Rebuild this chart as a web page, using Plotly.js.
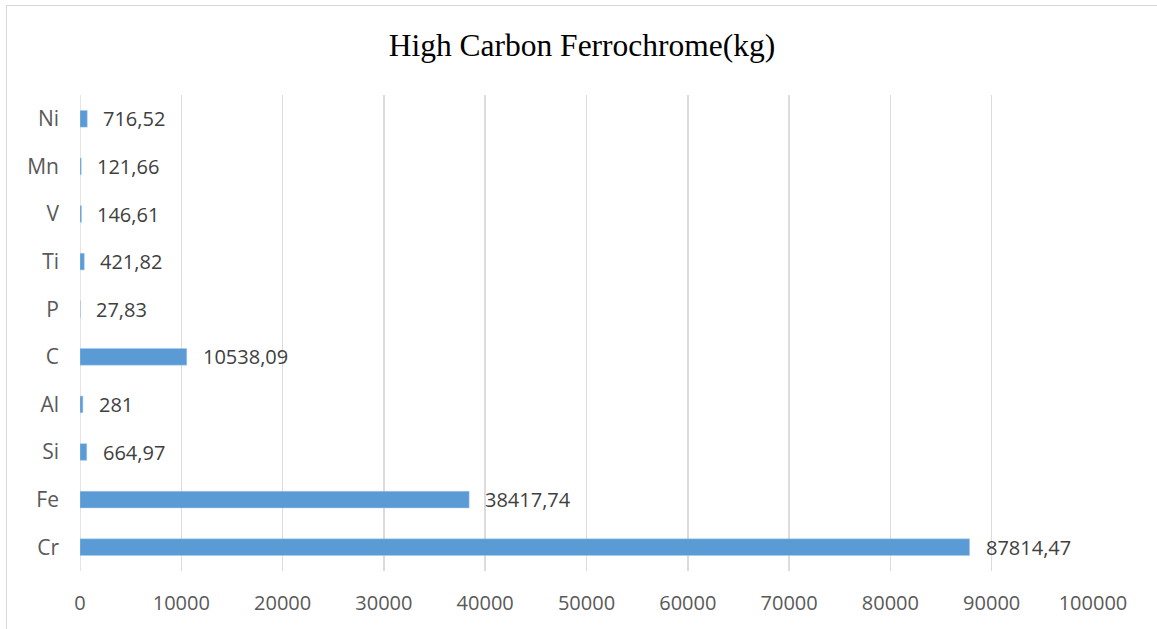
<!DOCTYPE html>
<html>
<head>
<meta charset="utf-8">
<script src="https://cdn.plot.ly/plotly-3.0.1.min.js"></script>
<style>
  html, body { margin: 0; padding: 0; background: #fff; overflow: hidden; }
  #frame { position: absolute; left: 6px; top: 5px; width: 1200px; height: 700px;
           border-left: 1.5px solid #d9d9d9; border-top: 1.5px solid #d9d9d9; }
  #chart { position: absolute; left: 0; top: 0; width: 1157px; height: 629px; }
</style>
</head>
<body>
<div id="frame"></div>
<div id="chart"></div>
<script>
const categories = ["Cr", "Fe", "Si", "Al", "C", "P", "Ti", "V", "Mn", "Ni"];
const values = [87814.47, 38417.74, 664.97, 281, 10538.09, 27.83, 421.82, 146.61, 121.66, 716.52];
const tickValues = [0, 10000, 20000, 30000, 40000, 50000, 60000, 70000, 80000, 90000, 100000];

const labels = values.map(v => String(v).replace('.', ','));

const trace = {
  type: 'bar',
  orientation: 'h',
  x: values,
  y: categories,
  marker: { color: '#5b9bd5', line: { color: '#a9c8ea', width: 0.5 } },
  hoverinfo: 'none',
  showlegend: false
};

const annotations = values.map((v, i) => ({
  x: v, y: categories[i], xref: 'x', yref: 'y',
  text: labels[i], showarrow: false, xanchor: 'left', yanchor: 'middle',
  xshift: 14, font: { family: 'Open Sans, sans-serif', size: 20, color: '#404040' }
}));

const layout = {
  width: 1157, height: 629,
  margin: { l: 80, r: 64, t: 95, b: 58 },
  paper_bgcolor: 'rgba(0,0,0,0)',
  plot_bgcolor: 'rgba(0,0,0,0)',
  bargap: 0.65,
  title: {
    text: 'High Carbon Ferrochrome(kg)',
    font: { family: 'Liberation Serif, Times New Roman, serif', size: 31.5, color: '#000' },
    x: 0.503, xanchor: 'center', y: 0.928, yanchor: 'middle'
  },
  xaxis: {
    range: [0, 100000],
    tickvals: tickValues,
    ticktext: tickValues.map(String),
    showgrid: true, gridcolor: '#dcdcdc', gridwidth: 1.5,
    zeroline: false, showline: false, ticks: '',
    ticklabelstandoff: 18,
    tickfont: { family: 'Open Sans, sans-serif', size: 20, color: '#595959' },
    fixedrange: true
  },
  yaxis: {
    type: 'category',
    categoryorder: 'array', categoryarray: categories,
    showgrid: false, zeroline: false, showline: false, ticks: '',
    ticklabelstandoff: 20,
    tickfont: { family: 'Open Sans, sans-serif', size: 21, color: '#595959' },
    fixedrange: true
  },
  shapes: [
    { type: 'line', xref: 'x', yref: 'paper', x0: 0, x1: 0, y0: 0, y1: 1,
      line: { color: '#dcdcdc', width: 1.5 }, layer: 'below' }
  ],
  annotations: annotations
};

Plotly.newPlot('chart', [trace], layout, { staticPlot: true, displayModeBar: false });
</script>
</body>
</html>
